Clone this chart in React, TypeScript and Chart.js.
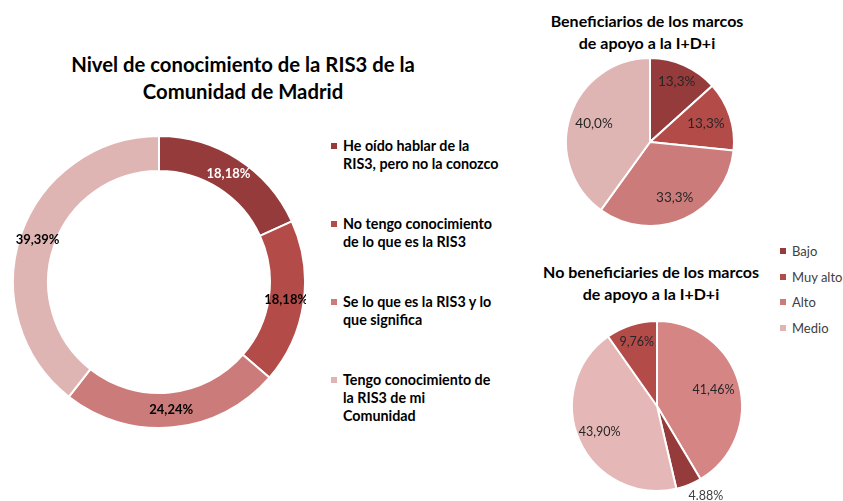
import React, { useEffect, useRef } from 'react';
import { Chart, registerables } from 'chart.js';

Chart.register(...registerables);

// ---------- data ----------
const knowledgeTitle = ['Nivel de conocimiento de la RIS3 de la', 'Comunidad de Madrid'];
const knowledgeCategories = [
  'He oído hablar de la RIS3, pero no la conozco',
  'No tengo conocimiento de lo que es la RIS3',
  'Se lo que es la RIS3 y lo que significa',
  'Tengo conocimiento de la RIS3 de mi Comunidad',
];
const knowledgeLegendLines = [
  ['He oído hablar de la', 'RIS3, pero no la conozco'],
  ['No tengo conocimiento', 'de lo que es la RIS3'],
  ['Se lo que es la RIS3 y lo', 'que significa'],
  ['Tengo conocimiento de', 'la RIS3 de mi', 'Comunidad'],
];
const knowledgeValues = [18.18, 18.18, 24.24, 39.39];
const knowledgeLabels = ['18,18%', '18,18%', '24,24%', '39,39%'];
const knowledgeColors = ['#953B3B', '#B34B49', '#CB7B7A', '#DFB5B4'];
const knowledgeLabelColors = ['#FFFFFF', '#000000', '#000000', '#000000'];

const levelCategories = ['Bajo', 'Muy alto', 'Alto', 'Medio'];
const levelColors = ['#953B3B', '#B34B49', '#CB7B7A', '#DFB5B4'];

const beneficiariesTitle = ['Beneficiarios de los marcos', 'de apoyo a la I+D+i'];
const beneficiariesCategories = ['Bajo', 'Muy alto', 'Alto', 'Medio'];
const beneficiariesValues = [13.3, 13.3, 33.3, 40.0];
const beneficiariesLabels = ['13,3%', '13,3%', '33,3%', '40,0%'];
const beneficiariesColors = ['#953B3B', '#B34B49', '#CB7B7A', '#DFB5B4'];

const nonBeneficiariesTitle = ['No beneficiaries de los marcos', 'de apoyo a la I+D+i'];
const nonBeneficiariesCategories = ['Alto', 'Bajo', 'Medio', 'Muy alto'];
const nonBeneficiariesValues = [41.46, 4.88, 43.9, 9.76];
const nonBeneficiariesLabels = ['41,46%', '4.88%', '43,90%', '9,76%'];
const nonBeneficiariesColors = ['#D48584', '#953B3B', '#E5B8B7', '#B34B49'];

const FONT = 'Lato, "Open Sans", "DejaVu Sans", sans-serif';

// ---------- slice label plugin ----------
const sliceLabelPlugin = {
  id: 'sliceLabels',
  afterDatasetsDraw(chart: any, _args: any, opts: any) {
    const meta = chart.getDatasetMeta(0);
    const ctx = chart.ctx;
    ctx.save();
    ctx.font = opts.font;
    ctx.textAlign = 'center';
    ctx.textBaseline = 'middle';
    meta.data.forEach((arc: any, i: number) => {
      const p = arc.getProps(['x', 'y', 'startAngle', 'endAngle', 'innerRadius', 'outerRadius'], true);
      const mid = (p.startAngle + p.endAngle) / 2;
      const r =
        p.innerRadius > 0
          ? (p.innerRadius + p.outerRadius) / 2
          : p.outerRadius * (opts.radius ? opts.radius[i] : 0.7);
      const dx = opts.dx ? opts.dx[i] : 0;
      const dy = opts.dy ? opts.dy[i] : 0;
      ctx.fillStyle = opts.colors[i];
      ctx.fillText(opts.texts[i], p.x + Math.cos(mid) * r + dx, p.y + Math.sin(mid) * r + dy);
    });
    ctx.restore();
  },
};

function PieCanvas(props: {
  type: 'pie' | 'doughnut';
  labels: string[];
  values: number[];
  colors: string[];
  cutout?: string;
  padding: number;
  labelOpts: any;
  style: React.CSSProperties;
}) {
  const ref = useRef<HTMLCanvasElement | null>(null);
  useEffect(() => {
    if (!ref.current) return;
    const chart = new Chart(ref.current, {
      type: props.type,
      data: {
        labels: props.labels,
        datasets: [
          {
            data: props.values,
            backgroundColor: props.colors,
            borderColor: '#FFFFFF',
            borderWidth: 2,
          },
        ],
      },
      options: {
        animation: false,
        responsive: false,
        maintainAspectRatio: false,
        cutout: props.cutout ?? 0,
        layout: { padding: props.padding },
        plugins: {
          legend: { display: false },
          tooltip: { enabled: false },
          title: { display: false },
          sliceLabels: props.labelOpts,
        } as any,
      } as any,
      plugins: [sliceLabelPlugin],
    });
    return () => chart.destroy();
  }, []);
  const w = props.style.width as number;
  const h = props.style.height as number;
  return <canvas ref={ref} width={w} height={h} style={{ position: 'absolute', ...props.style }} />;
}

const textBase: React.CSSProperties = {
  position: 'absolute',
  fontFamily: FONT,
  color: '#000000',
  whiteSpace: 'nowrap',
};

export default function App() {
  return (
    <div
      style={{
        position: 'absolute',
        left: 0,
        top: 0,
        width: 843,
        height: 501,
        overflow: 'hidden',
        background: '#FFFFFF',
      }}
    >
      {/* Left title */}
      <div
        style={{
          ...textBase,
          left: 43,
          top: 51,
          width: 400,
          textAlign: 'center',
          fontWeight: 700,
          fontSize: 20.3,
          lineHeight: '27px',
        }}
      >
        {knowledgeTitle.map((t, i) => (
          <div key={i}>{t}</div>
        ))}
      </div>

      {/* Doughnut */}
      <PieCanvas
        type="doughnut"
        labels={knowledgeCategories}
        values={knowledgeValues}
        colors={knowledgeColors}
        cutout="76%"
        padding={0}
        labelOpts={{
          font: `bold 13px ${FONT}`,
          colors: knowledgeLabelColors,
          texts: knowledgeLabels,
        }}
        style={{ left: 12, top: 135, width: 294, height: 294 }}
      />

      {/* Left legend */}
      {knowledgeLegendLines.map((lines, i) => (
        <div key={i} style={{ ...textBase, left: 331, top: 137 + i * 78 }}>
          <div
            style={{
              position: 'absolute',
              left: 0,
              top: 6,
              width: 6,
              height: 6,
              background: knowledgeColors[i],
            }}
          />
          <div
            style={{
              position: 'absolute',
              left: 12,
              top: 0,
              fontWeight: 700,
              fontSize: 14.3,
              lineHeight: '18px',
            }}
          >
            {lines.map((l, j) => (
              <div key={j}>{l}</div>
            ))}
          </div>
        </div>
      ))}

      {/* Right titles */}
      <div
        style={{
          ...textBase,
          left: 497,
          top: 10,
          width: 300,
          textAlign: 'center',
          fontWeight: 700,
          fontSize: 16,
          lineHeight: '22px',
        }}
      >
        {beneficiariesTitle.map((t, i) => (
          <div key={i}>{t}</div>
        ))}
      </div>
      <div
        style={{
          ...textBase,
          left: 501,
          top: 261,
          width: 300,
          textAlign: 'center',
          fontWeight: 700,
          fontSize: 16,
          lineHeight: '22px',
        }}
      >
        {nonBeneficiariesTitle.map((t, i) => (
          <div key={i}>{t}</div>
        ))}
      </div>

      {/* Pie 1 */}
      <PieCanvas
        type="pie"
        labels={beneficiariesCategories}
        values={beneficiariesValues}
        colors={beneficiariesColors}
        padding={20}
        labelOpts={{
          font: `13.5px ${FONT}`,
          colors: ['#262626', '#262626', '#262626', '#262626'],
          texts: beneficiariesLabels,
          radius: [0.78, 0.7, 0.72, 0.7],
        }}
        style={{ left: 545, top: 37, width: 210, height: 210 }}
      />

      {/* Pie 2 */}
      <PieCanvas
        type="pie"
        labels={nonBeneficiariesCategories}
        values={nonBeneficiariesValues}
        colors={nonBeneficiariesColors}
        padding={30}
        labelOpts={{
          font: `12.5px ${FONT}`,
          colors: ['#262626', '#404040', '#262626', '#262626'],
          texts: nonBeneficiariesLabels,
          radius: [0.69, 1.13, 0.74, 0.79],
          dx: [0, 13, 0, 0],
          dy: [0, 1, 0, 0],
        }}
        style={{ left: 541, top: 290, width: 232, height: 232 }}
      />

      {/* Right legend */}
      {levelCategories.map((c, i) => (
        <div key={i} style={{ ...textBase, left: 780, top: 242 + i * 25.7, height: 18 }}>
          <div
            style={{
              position: 'absolute',
              left: 0,
              top: 6,
              width: 6,
              height: 6,
              background: levelColors[i],
            }}
          />
          <div
            style={{
              position: 'absolute',
              left: 12,
              top: 0,
              fontSize: 13,
              lineHeight: '18px',
              color: '#404040',
            }}
          >
            {c}
          </div>
        </div>
      ))}
    </div>
  );
}
